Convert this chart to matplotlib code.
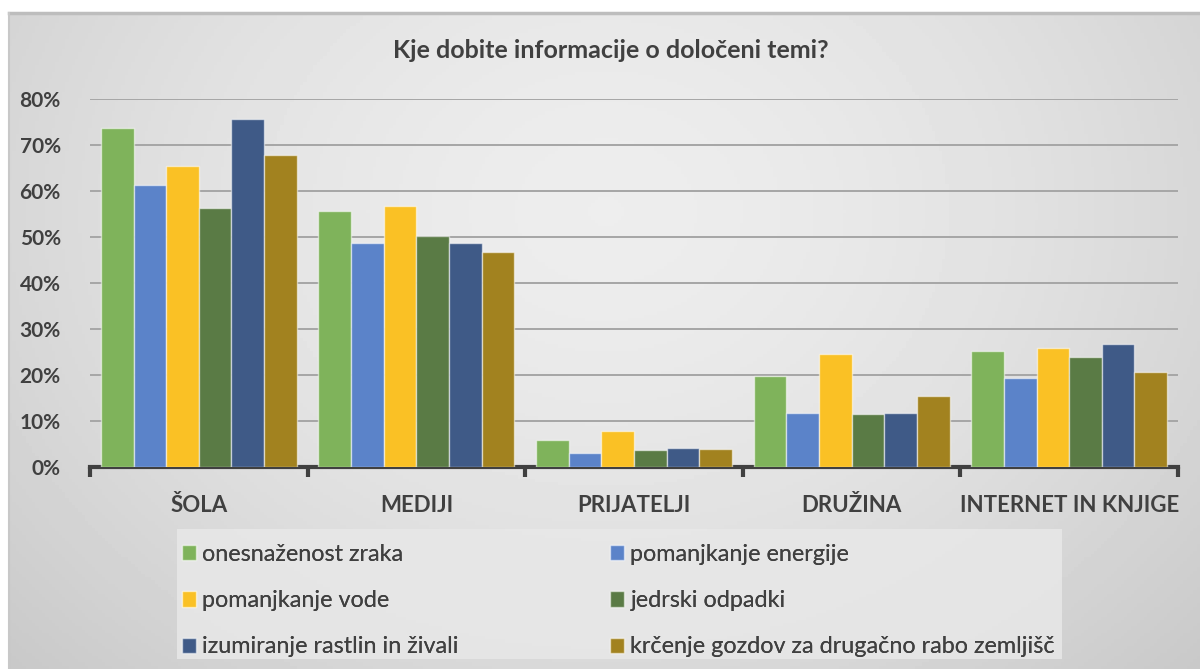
import numpy as np
import matplotlib
matplotlib.use("Agg")
import matplotlib.pyplot as plt
from matplotlib.patches import Rectangle

categories = ["ŠOLA", "MEDIJI", "PRIJATELJI", "DRUŽINA", "INTERNET IN KNJIGE"]
series_names = ["onesnaženost zraka", "pomanjkanje energije", "pomanjkanje vode",
                "jedrski odpadki", "izumiranje rastlin in živali",
                "krčenje gozdov za drugačno rabo zemljišč"]
onesnazenost = [73.6, 55.6, 5.8, 19.7, 25.2]
energija = [61.4, 48.8, 3.0, 11.7, 19.4]
voda = [65.4, 56.8, 7.9, 24.5, 25.9]
jedrski = [56.4, 50.3, 3.7, 11.5, 23.9]
izumiranje = [75.6, 48.8, 4.2, 11.7, 26.7]
krcenje = [67.9, 46.8, 4.0, 15.4, 20.6]
yticks = [0, 10, 20, 30, 40, 50, 60, 70, 80]

series = [onesnazenost, energija, voda, jedrski, izumiranje, krcenje]
colors = ["#7FB35B", "#5B83C9", "#FAC125", "#5A7B45", "#3F5A87", "#A2821F"]

plt.rcParams['font.family'] = ['Lato', 'DejaVu Sans']
W, H = 1200, 669
fig = plt.figure(figsize=(12, 6.69), dpi=100)
fig.patch.set_facecolor("white")

# background panel with radial gradient
bx0, by1 = 9 / W, 1 - 13 / H
bg = fig.add_axes([bx0, 0, 1 - bx0, by1])
bg.set_axis_off()
yy, xx = np.mgrid[0:200, 0:360]
cx, cy = 180, 60
r = np.sqrt(((xx - cx) / 210.0) ** 2 + ((yy - cy) / 170.0) ** 2)
val = 0.93 - 0.11 * np.clip(r, 0, 1.3) ** 1.6
bg.imshow(val, cmap="gray", vmin=0, vmax=1, aspect="auto", extent=[0, 1, 0, 1], origin="upper")
bg.plot([0, 1], [1, 1], color="#bdbdbd", lw=2.5, transform=bg.transAxes, clip_on=False)
bg.plot([0, 0], [0, 1], color="#c8c8c8", lw=1.5, transform=bg.transAxes, clip_on=False)

ax = fig.add_axes([90 / W, 1 - 467 / H, (1178 - 90) / W, (467 - 99) / H])
ax.set_facecolor("none")
n = len(series)
x = np.arange(len(categories))
group_w = 0.9
bw = group_w / n
for i, (vals, c, name) in enumerate(zip(series, colors, series_names)):
    ax.bar(x - group_w / 2 + bw * (i + 0.5), vals, width=bw, color=c,
           edgecolor=(1, 1, 1, 0.55), linewidth=1.0, label=name, zorder=3)

ax.set_xlim(-0.5, len(categories) - 0.5)
ax.set_ylim(0, 80)
ax.set_yticks(yticks)
ax.set_yticklabels([f"{v}%" for v in yticks], fontsize=15, fontweight="bold", color="#404040")
ax.tick_params(axis="y", length=0, pad=21)
ax.yaxis.grid(True, color="#a6a6a6", lw=1.4, zorder=0)
ax.set_axisbelow(True)
ax.set_xticks(x)
ax.set_xticklabels(categories, fontsize=16, fontweight="bold", color="#404040")
ax.tick_params(axis="x", which="major", length=0, pad=20)
ax.set_xticks(np.arange(len(categories) + 1) - 0.5, minor=True)
ax.tick_params(axis="x", which="minor", length=7, width=3, color="#404040", direction="out")
for s in ["top", "right", "left"]:
    ax.spines[s].set_visible(False)
ax.spines["bottom"].set_color("#404040")
ax.spines["bottom"].set_linewidth(3)

fig.text(611 / W, 1 - 51 / H, "Kje dobite informacije o določeni temi?", ha="center", va="center",
         fontsize=18, fontweight="bold", color="#404040")

# legend
lx0, ly0, lx1, ly1 = 177, 529, 1062, 659
fig.patches.append(Rectangle((lx0 / W, 1 - ly1 / H), (lx1 - lx0) / W, (ly1 - ly0) / H,
                             transform=fig.transFigure, facecolor="#e8e8e8", edgecolor="none",
                             alpha=0.85, zorder=1))
handles, labels = ax.get_legend_handles_labels()
for col, (idx, xpix) in enumerate([([0, 2, 4], 182), ([1, 3, 5], 610)]):
    leg = fig.legend([handles[i] for i in idx], [labels[i] for i in idx], ncol=1, loc="upper left",
                     bbox_to_anchor=(xpix / W, 1 - 544 / H),
                     frameon=False, fontsize=16.8, handlelength=0.62, handleheight=0.62,
                     handletextpad=0.25, labelspacing=1.08, borderaxespad=0.0, borderpad=0.0,
                     labelcolor="#404040")
    fig.add_artist(leg)

fig.savefig("out.png", dpi=100)
